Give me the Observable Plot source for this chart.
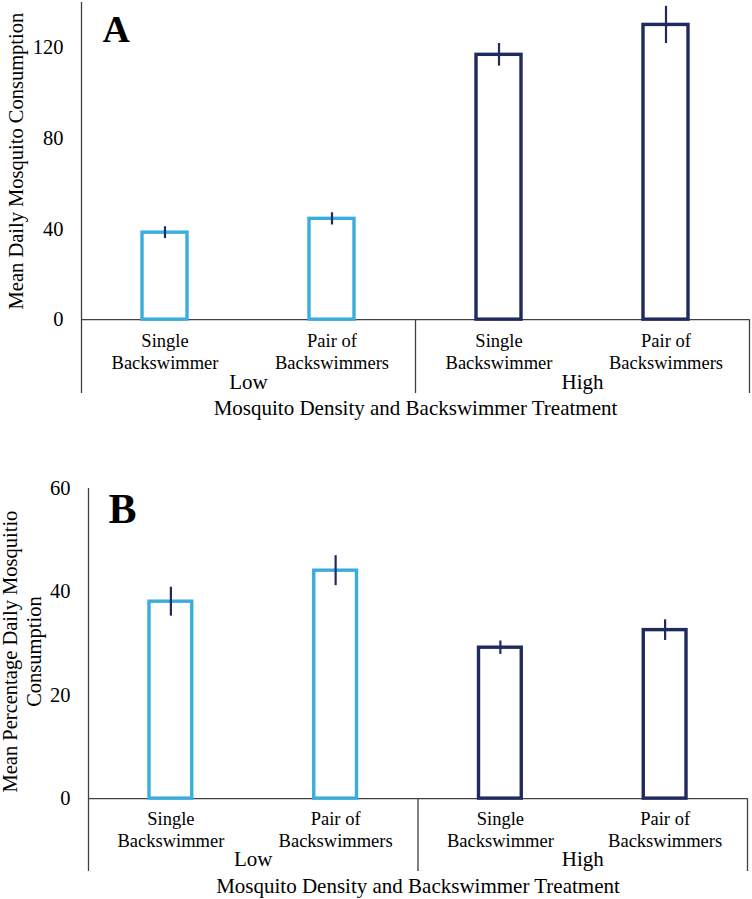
<!DOCTYPE html>
<html>
<head>
<meta charset="utf-8">
<script src="https://cdn.jsdelivr.net/npm/d3@7"></script>
<script src="https://cdn.jsdelivr.net/npm/@observablehq/plot@0.6"></script>
<style>
  body { margin: 0; background: white; }
  svg { display: block; }
  svg text { font-family: "Liberation Serif", "Times New Roman", serif; }
</style>
</head>
<body>
<div id="chartA"></div>
<div id="chartB"></div>
<script>
// categories
const treatments = ["Single\nBackswimmer", "Pair of\nBackswimmers", "Single\nBackswimmer", "Pair of\nBackswimmers"];
const densities = ["Low", "Low", "High", "High"];

// panel A: mean daily consumption
const consumption = [38.4, 44.5, 116.9, 130.1];
const consumptionErr = [2.6, 2.7, 5.0, 8.2];
const ticksA = [0, 40, 80, 120];

// panel B: mean percentage daily consumption
const percentage = [38.1, 44.1, 29.2, 32.6];
const percentageErr = [2.8, 2.9, 1.3, 2.0];
const ticksB = [0, 20, 40, 60];

const xTitle = "Mosquito Density and Backswimmer Treatment";
const lightBlue = "#3aaddc";
const navy = "#1f2a5e";
const axisColor = "#404040";
const serif = "Liberation Serif";

function panel(o) {
  let rows = o.values.map((v, i) => ({i, treatment: treatments[i], density: densities[i], value: v, err: o.errors[i]}));
  let groups = Array.from(d3.group(rows, d => d.density), ([name, rs]) => ({
    name, start: d3.min(rs, r => r.i), end: d3.max(rs, r => r.i) + 1
  }));
  let edges = [...new Set(groups.flatMap(g => [g.start, g.end]))];

  return Plot.plot({
    width: 752,
    height: o.height,
    marginLeft: o.marginLeft,
    marginRight: o.marginRight,
    marginTop: o.marginTop,
    marginBottom: o.marginBottom,
    style: "font-family: 'Liberation Serif', serif; color: black; background: white;",
    x: {domain: [0, rows.length], axis: null},
    y: {domain: [o.yMin, o.yMax]},
    color: {domain: ["Low", "High"], range: [lightBlue, navy]},
    marks: [
      Plot.axisY({ticks: o.ticks, tickSize: 0, tickPadding: 18, fontSize: 20.5, fontFamily: serif, label: null}),
      Plot.ruleY([0], {stroke: axisColor, strokeWidth: 1.3}),
      Plot.ruleX([0], {y1: o.yMin, y2: o.yMax, stroke: axisColor, strokeWidth: 1.3}),
      Plot.ruleX(edges.filter(e => e > 0), {y1: o.yMin, y2: 0, stroke: axisColor, strokeWidth: 1.3}),
      Plot.rectY(rows, {
        x1: "i", x2: d => d.i + 1, y1: 0, y2: "value",
        fill: "white", stroke: "density", strokeWidth: 3.4,
        insetLeft: 61, insetRight: 61
      }),
      Plot.ruleX(rows, {x: d => d.i + 0.5, y1: d => d.value - d.err, y2: d => d.value + d.err, stroke: navy, strokeWidth: 2.2}),
      Plot.text(rows, {x: d => d.i + 0.5, y: 0, text: "treatment", dy: o.catDy, fontSize: 18.5, fontFamily: serif, lineHeight: 1.19}),
      Plot.text(groups, {x: d => (d.start + d.end) / 2, y: 0, text: "name", dy: o.groupDy, fontSize: 21, fontFamily: serif}),
      Plot.text([xTitle], {x: rows.length / 2, y: 0, dy: o.titleDy, fontSize: 21, fontFamily: serif}),
      Plot.text([o.yTitle], {x: 0, y: o.yMax / 2, rotate: -90, dx: o.yTitleDx, dy: o.yTitleDy, fontSize: 20.5, fontFamily: serif, lineHeight: 1.2}),
      Plot.text([o.letter], {frameAnchor: "top-left", lineAnchor: "top", dx: o.letterDx, dy: o.letterDy, fontSize: o.letterSize, fontFamily: serif, fontWeight: "bold"})
    ]
  });
}

let chartA = panel({
  values: consumption, errors: consumptionErr, ticks: ticksA,
  yMin: -32.6, yMax: 140,
  height: 430, marginLeft: 81, marginRight: 3, marginTop: 2, marginBottom: 37,
  catDy: 31, groupDy: 63, titleDy: 89,
  yTitle: "Mean Daily Mosquito Consumption", yTitleDx: -66, yTitleDy: 0,
  letter: "A", letterDx: 21, letterDy: 13, letterSize: 38
});

let chartB = panel({
  values: percentage, errors: percentageErr, ticks: ticksB,
  yMin: -14.1, yMax: 60,
  height: 469, marginLeft: 88, marginRight: 5, marginTop: 58, marginBottom: 28,
  catDy: 30, groupDy: 61, titleDy: 88,
  yTitle: "Mean Percentage Daily Mosquitio\nConsumption", yTitleDx: -67.5, yTitleDy: 8,
  letter: "B", letterDx: 20, letterDy: 5, letterSize: 42
});

d3.select('#chartA').append(() => chartA);
d3.select('#chartB').append(() => chartB);
</script>
</body>
</html>
